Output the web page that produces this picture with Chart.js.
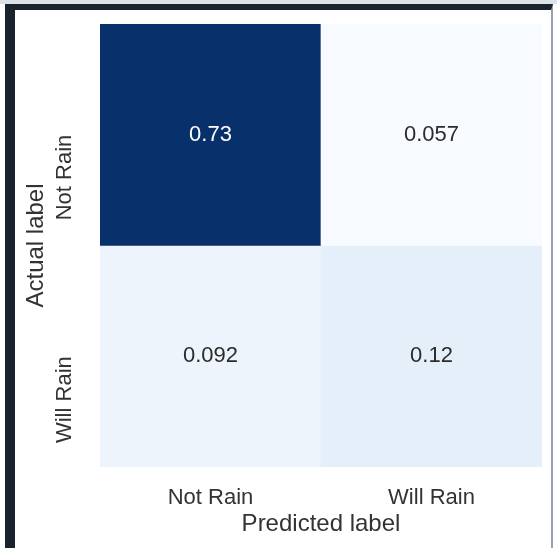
<!DOCTYPE html>
<html>
<head>
<meta charset="utf-8">
<script src="https://cdn.jsdelivr.net/npm/chart.js@4"></script>
<style>
  html,body{margin:0;padding:0;background:#fff;}
  #wrap{position:relative;width:557px;height:548px;overflow:hidden;}
  #strip{position:absolute;left:0;top:0;width:557px;height:4px;background:#dde2e6;}
  #frame{position:absolute;left:5px;top:4px;width:548px;height:560px;border-left:10px solid #1a232d;border-top:6px solid #1a232d;border-right:2px solid #9aa3ab;box-sizing:border-box;}
  #cm{position:absolute;left:0;top:0;filter:blur(0.5px);}
</style>
</head>
<body>
<div id="wrap">
  <div id="strip"></div>
  <div id="frame"></div>
  <canvas id="cm" width="557" height="548"></canvas>
</div>
<script>
// confusion matrix, normalised over all samples
const xLabels = ['Not Rain', 'Will Rain'];       // predicted
const yLabels = ['Not Rain', 'Will Rain'];       // actual
const rowNotRain = [0.73, 0.057];
const rowWillRain = [0.092, 0.12];
const cellText = [['0.73', '0.057'], ['0.092', '0.12']];
const yTickValues = [0.5, 1.5];

const matrix = [rowNotRain, rowWillRain];
const FONT = "'Liberation Sans', Arial, sans-serif";

// matplotlib "Blues"
const BLUES = ['#f7fbff','#deebf7','#c6dbef','#9ecae1','#6baed6','#4292c6','#2171b5','#08519c','#08306b'];
function hex(h){ return [1,3,5].map(i=>parseInt(h.slice(i,i+2),16)); }
function blues(t){
  t = Math.max(0, Math.min(1, t));
  const p = t*(BLUES.length-1), i = Math.min(Math.floor(p), BLUES.length-2), f = p-i;
  const a = hex(BLUES[i]), b = hex(BLUES[i+1]);
  const c = a.map((v,k)=>Math.round(v+(b[k]-v)*f));
  return `rgb(${c[0]},${c[1]},${c[2]})`;
}
const all = matrix.flat();
const vmin = Math.min(...all), vmax = Math.max(...all);
const norm = v => (v-vmin)/(vmax-vmin);

const datasets = matrix.map((row, r) => ({
  label: yLabels[r],
  data: row.map(() => 1),
  backgroundColor: row.map(v => blues(norm(v))),
  borderWidth: 0,
  barPercentage: 1,
  categoryPercentage: 1
}));

const cellLabels = {
  id: 'cellLabels',
  afterDatasetsDraw(chart){
    const ctx = chart.ctx;
    ctx.save();
    ctx.font = `22px ${FONT}`;
    ctx.textAlign = 'center';
    ctx.textBaseline = 'middle';
    chart.data.datasets.forEach((ds, r) => {
      chart.getDatasetMeta(r).data.forEach((bar, c) => {
        const v = matrix[r][c];
        ctx.fillStyle = norm(v) > 0.5 ? '#ffffff' : '#2b2b2b';
        ctx.fillText(cellText[r][c], bar.x, (bar.y + bar.base)/2);
      });
    });
    ctx.restore();
  }
};

new Chart(document.getElementById('cm'), {
  type: 'bar',
  data: { labels: xLabels, datasets },
  plugins: [cellLabels],
  options: {
    responsive: false,
    animation: false,
    layout: { padding: { left: 0, top: 24, right: 15, bottom: 0 } },
    plugins: { legend: { display: false }, tooltip: { enabled: false } },
    scales: {
      x: {
        type: 'category',
        stacked: true,
        grid: { display: false },
        border: { display: false },
        ticks: { color: '#333', font: { family: FONT, size: 22 }, padding: 10, maxRotation: 0 },
        title: { display: true, text: 'Predicted label', color: '#333', font: { family: FONT, size: 24 }, padding: { top: 0, bottom: 9 } },
        afterFit(s){ s.height = 81; s.paddingLeft = 0; s.paddingRight = 0; }
      },
      y: {
        type: 'linear',
        stacked: true,
        min: 0, max: 2,
        reverse: true,
        grid: { display: false },
        border: { display: false },
        afterBuildTicks(s){ s.ticks = yTickValues.map(v => ({ value: v })); },
        ticks: {
          color: '#333', font: { family: FONT, size: 22 }, padding: 27,
          minRotation: 90, maxRotation: 90, autoSkip: false,
          callback: (v, i) => yLabels[i]
        },
        title: { display: true, text: 'Actual label', color: '#333', font: { family: FONT, size: 24 }, padding: { top: 22, bottom: 0 } },
        afterFit(s){ s.width = 100; s.paddingTop = 0; s.paddingBottom = 0; }
      }
    }
  }
});
</script>
</body>
</html>
